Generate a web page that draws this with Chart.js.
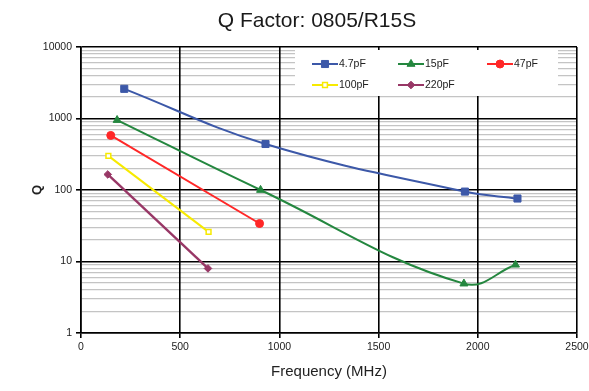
<!DOCTYPE html>
<html>
<head>
<meta charset="utf-8">
<script src="https://cdn.jsdelivr.net/npm/chart.js@4.4.1/dist/chart.umd.min.js"></script>
<style>
  html, body { margin: 0; padding: 0; background: #fff; }
  #wrap { width: 589px; height: 391px; position: relative; }
</style>
</head>
<body>
<div id="wrap"><canvas id="qChart"></canvas></div>
<script>
// Q factor readings, 0805/R15S
const seriesNames = ['4.7pF', '15pF', '47pF', '100pF', '220pF'];

const freq4p7 = [218, 930, 1935, 2200];
const q4p7 = [2600, 440, 95, 76];

const freq15 = [182, 905, 1930, 2190];
const q15 = [950, 100, 4.9, 9];

const freq47 = [150, 900];
const q47 = [580, 34];

const freq100 = [138, 643];
const q100 = [300, 26];

const freq220 = [135, 640];
const q220 = [165, 8];

// axis ticks
const xTicks = [0, 500, 1000, 1500, 2000, 2500];
const yMajorTicks = [1, 10, 100, 1000, 10000];
const yMinorSteps = [2, 3, 4, 5, 6, 7, 8, 9];

const FONT = "'Liberation Sans', Arial, sans-serif";

function toPoints(xs, ys) {
    return xs.map((x, i) => ({ x: x, y: ys[i] }));
}

function buildYTicks() {
    const ticks = [];
    yMajorTicks.forEach((v, i) => {
        ticks.push({ value: v, major: true });
        if (i < yMajorTicks.length - 1) {
            yMinorSteps.forEach(s => ticks.push({ value: v * s, major: false }));
        }
    });
    return ticks;
}

/**
 * Chart title drawn a bit right of centre, like the original
 */
const titlePlugin = {
    id: 'titlePlugin',
    afterDraw(chart) {
        const ctx = chart.ctx;
        ctx.save();
        ctx.fillStyle = '#1a1a1a';
        ctx.font = `21px ${FONT}`;
        ctx.textAlign = 'center';
        ctx.textBaseline = 'middle';
        ctx.fillText('Q Factor: 0805/R15S', 317, 21);
        ctx.restore();
    }
};

/**
 * Legend sitting in a white box in the top right of the plot
 */
const legendBox = {
    id: 'legendBox',
    afterDatasetsDraw(chart) {
        const ctx = chart.ctx;
        const cols = [312, 398, 487];
        const rows = [64, 85];
        ctx.save();
        ctx.fillStyle = '#fff';
        ctx.fillRect(295, 50, 263, 46);

        chart.data.datasets.forEach((ds, i) => {
            const x = cols[i % 3];
            const y = rows[Math.floor(i / 3)];

            ctx.strokeStyle = ds.borderColor;
            ctx.lineWidth = 2;
            ctx.beginPath();
            ctx.moveTo(x, y);
            ctx.lineTo(x + 26, y);
            ctx.stroke();

            ctx.fillStyle = ds.pointBackgroundColor;
            ctx.strokeStyle = ds.pointBorderColor;
            ctx.lineWidth = ds.pointBorderWidth;
            Chart.helpers.drawPoint(ctx, {
                pointStyle: ds.pointStyle,
                radius: ds.pointRadius,
                borderWidth: ds.pointBorderWidth,
                rotation: 0
            }, x + 13, y);

            ctx.fillStyle = '#222';
            ctx.font = `10.5px ${FONT}`;
            ctx.textAlign = 'left';
            ctx.textBaseline = 'middle';
            ctx.fillText(ds.label, x + 27, y + 0.5);
        });
        ctx.restore();
    }
};

function makeDataset(label, xs, ys, color, style, radius, extra) {
    return Object.assign({
        label: label,
        data: toPoints(xs, ys),
        borderColor: color,
        backgroundColor: color,
        borderWidth: 2,
        pointStyle: style,
        pointRadius: radius,
        pointBackgroundColor: color,
        pointBorderColor: color,
        pointBorderWidth: 1,
        tension: 0,
        clip: false
    }, extra || {});
}

function initChart() {
    const ctx = document.getElementById('qChart');

    const datasets = [
        makeDataset(seriesNames[0], freq4p7, q4p7, '#3c58a8', 'rect', 5, { tension: 0.4 }),
        makeDataset(seriesNames[1], freq15, q15, '#24873f', 'triangle', 4.6, { tension: 0.4 }),
        makeDataset(seriesNames[2], freq47, q47, '#ff2727', 'circle', 4),
        makeDataset(seriesNames[3], freq100, q100, '#f7ea00', 'rect', 3.4, {
            pointBackgroundColor: '#ffffff',
            pointBorderWidth: 1.5
        }),
        makeDataset(seriesNames[4], freq220, q220, '#983766', 'rectRot', 3.8, { borderWidth: 2.4 })
    ];

    new Chart(ctx, {
        type: 'line',
        data: { datasets: datasets },
        options: {
            responsive: true,
            maintainAspectRatio: false,
            animation: false,
            layout: {
                padding: { top: 47, right: 12, bottom: 0, left: 0 }
            },
            plugins: {
                legend: { display: false },
                title: { display: false },
                tooltip: { enabled: false }
            },
            scales: {
                x: {
                    type: 'linear',
                    min: xTicks[0],
                    max: xTicks[xTicks.length - 1],
                    afterBuildTicks: scale => {
                        scale.ticks = xTicks.map(v => ({ value: v }));
                    },
                    afterFit: scale => {
                        scale.height = 58;
                        scale.paddingLeft = 0;
                        scale.paddingRight = 0;
                    },
                    grid: {
                        z: -1,
                        color: '#000',
                        lineWidth: 1.6,
                        tickLength: 5,
                        tickColor: '#000'
                    },
                    border: { color: '#000', width: 1.6 },
                    ticks: {
                        autoSkip: false,
                        maxRotation: 0,
                        padding: 3,
                        color: '#222',
                        font: { family: FONT, size: 10.5 },
                        callback: value => String(value)
                    },
                    title: {
                        display: true,
                        text: 'Frequency (MHz)',
                        color: '#222',
                        font: { family: FONT, size: 15 },
                        padding: { top: 0, bottom: 10 }
                    }
                },
                y: {
                    type: 'logarithmic',
                    min: yMajorTicks[0],
                    max: yMajorTicks[yMajorTicks.length - 1],
                    afterBuildTicks: scale => {
                        scale.ticks = buildYTicks();
                    },
                    afterFit: scale => {
                        scale.width = 81;
                    },
                    grid: {
                        z: -2,
                        color: c => (c.tick && c.tick.major ? '#000' : '#c4c4c4'),
                        lineWidth: c => (c.tick && c.tick.major ? 1.6 : 1.3),
                        tickLength: 5,
                        tickColor: c => (c.tick && c.tick.major ? '#000' : 'rgba(0,0,0,0)')
                    },
                    border: { color: '#000', width: 1.6 },
                    ticks: {
                        autoSkip: false,
                        padding: 4,
                        color: '#222',
                        font: { family: FONT, size: 10.5 },
                        callback: value => (yMajorTicks.includes(value) ? String(value) : '')
                    },
                    title: {
                        display: true,
                        text: 'Q',
                        color: '#222',
                        font: { family: FONT, size: 13, weight: 'bold' },
                        padding: { top: 30, bottom: 0 }
                    }
                }
            }
        },
        plugins: [legendBox, titlePlugin]
    });
}

document.addEventListener('DOMContentLoaded', initChart);
</script>
</body>
</html>
